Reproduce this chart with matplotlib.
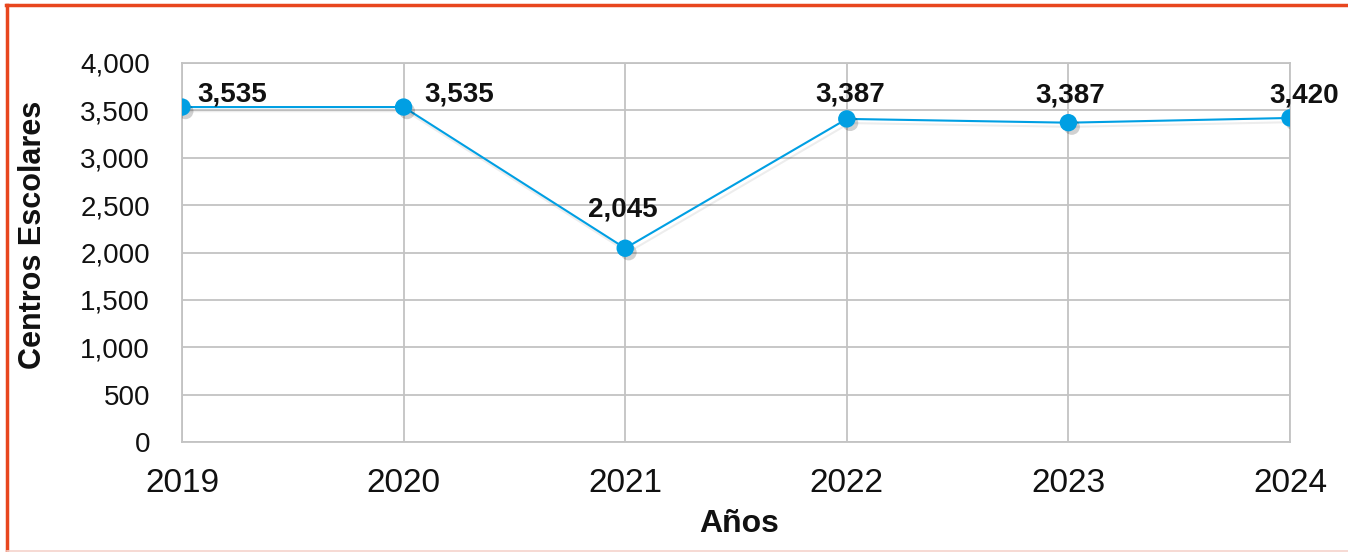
import matplotlib
matplotlib.use("Agg")
import matplotlib.pyplot as plt
import matplotlib.patheffects as pe
from matplotlib.lines import Line2D
from matplotlib.ticker import FuncFormatter

years = [2019, 2020, 2021, 2022, 2023, 2024]
centros = [3535, 3535, 2045, 3410, 3370, 3420]
etiquetas = ["3,535", "3,535", "2,045", "3,387", "3,387", "3,420"]
y_ticks = [0, 500, 1000, 1500, 2000, 2500, 3000, 3500, 4000]

plt.rcParams['font.family'] = ['Liberation Sans', 'DejaVu Sans']

W, H = 1348, 552
fig = plt.figure(figsize=(W / 100, H / 100), dpi=100)
ax = fig.add_axes([182 / W, 1 - 442 / H, 1108 / W, 379 / H])

blue = '#009fe3'
grid_c = '#c3c3c3'

ax.plot(years, centros, color=blue, lw=1.5, zorder=3,
        path_effects=[pe.SimpleLineShadow(offset=(2, -3), shadow_color='k', alpha=0.07, rho=0.3),
                      pe.Normal()])
ax.plot(years, centros, ls='none', marker='o', ms=11.5, color=blue, zorder=4,
        path_effects=[pe.SimplePatchShadow(offset=(2.5, -3), shadow_rgbFace='k', alpha=0.18),
                      pe.Normal()])

# label offsets in pixels (dx, dy) and alignment
offsets = [(15, 6, 'left'), (21, 6, 'left'), (-2, 32, 'center'),
           (3, 17, 'center'), (2, 20, 'center'), (14, 15, 'center')]
for x, y, lab, (dx, dy, ha) in zip(years, centros, etiquetas, offsets):
    ax.annotate(lab, (x, y), xytext=(dx, dy), textcoords='offset pixels',
                ha=ha, va='baseline', fontsize=20, fontweight='bold', color='#111111',
                zorder=5, annotation_clip=False)

ax.set_xlim(years[0], years[-1])
ax.set_ylim(0, 4000)
ax.set_xticks(years)
ax.set_xticklabels([str(y) for y in years])
ax.set_yticks(y_ticks)
ax.yaxis.set_major_formatter(FuncFormatter(lambda v, p: f"{int(v):,}"))
ax.tick_params(axis='x', length=0, pad=19, labelsize=24, colors='#111111')
ax.tick_params(axis='y', length=0, pad=23, labelsize=20, colors='#111111')
ax.grid(True, color=grid_c, lw=1.3)
ax.set_axisbelow(True)
for s in ax.spines.values():
    s.set_color(grid_c)
    s.set_linewidth(1.3)

fig.text(739 / W, 1 - 532 / H, 'Años', ha='center', va='baseline',
         fontsize=23, fontweight='bold', color='#111111')
fig.text(33 / W, 1 - 235 / H, 'Centros Escolares', ha='center', va='center',
         rotation=90, fontsize=22, fontweight='bold', color='#111111')

# orange frame
orange = '#e8461e'
fig.add_artist(Line2D([6 / W, 1], [1 - 4.5 / H, 1 - 4.5 / H], transform=fig.transFigure,
                      color=orange, lw=2.5))
fig.add_artist(Line2D([7 / W, 7 / W], [1 - 4.5 / H, 0], transform=fig.transFigure,
                      color=orange, lw=2.5))
fig.add_artist(Line2D([7 / W, 1], [1.2 / H, 1.2 / H], transform=fig.transFigure,
                      color='#f5d3cc', lw=1.2))

fig.savefig('out.png', dpi=100)
